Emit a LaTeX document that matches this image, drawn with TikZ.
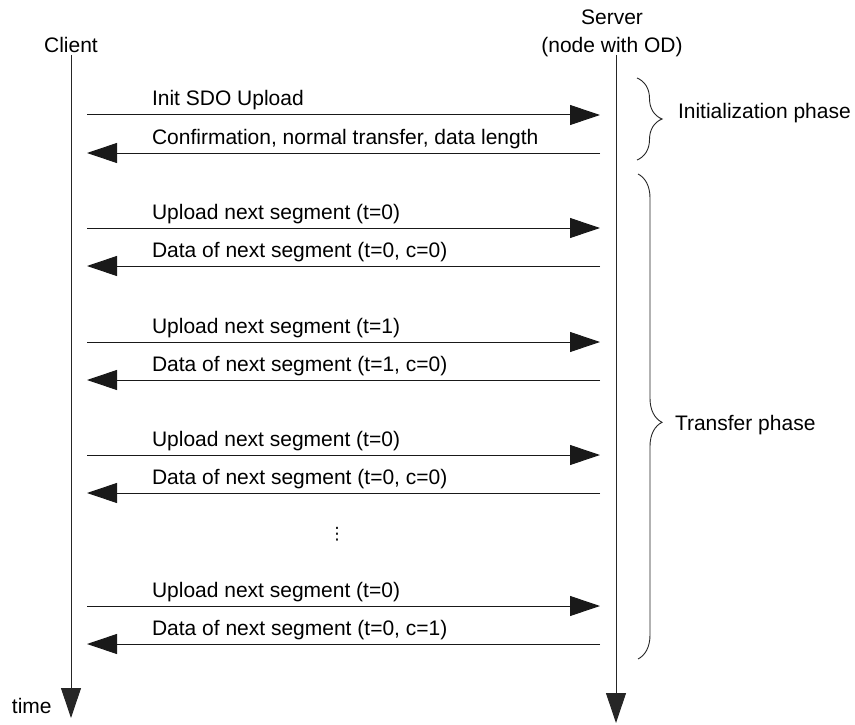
\documentclass[tikz,border=0pt]{standalone}
\usepackage{fontspec}
\setmainfont{Liberation Sans}
\newfontfamily\symfont{DejaVu Sans}
\usetikzlibrary{arrows.meta,decorations.pathreplacing}
\begin{document}
\begin{tikzpicture}[x=1pt,y=-1pt,
  every node/.style={inner sep=0pt,outer sep=0pt,font=\fontsize{21}{25}\selectfont},
  life/.style={draw=black!85,line width=1pt,-{Triangle[length=30pt,width=20pt]}},
  msg/.style={draw=black!90,line width=1pt,-{Triangle[length=30pt,width=20pt]}},
  lbl/.style={anchor=base west},
  phase/.style={draw=black!85,line width=0.9pt,decorate,decoration={brace,amplitude=25pt}}]
\useasboundingbox (0,0) rectangle (855,725);
% participants
\node[anchor=base] (client) at (71,53) {Client};
\node[anchor=base] (server) at (612,25) {Server};
\node[anchor=base] (serverod) at (612,53) {(node with OD)};
\coordinate (cTop) at (71,55);
\coordinate (cBot) at (71,718);
\coordinate (sTop) at (616,55);
\coordinate (sBot) at (616,723);
\draw[life] (cTop) -- (cBot);
\draw[life] (sTop) -- (sBot);
\node[anchor=base west] (time) at (12,713) {time};
% messages
\foreach \i/\y/\dir/\t in {
  1/115/r/{Init SDO Upload},
  2/153/l/{Confirmation, normal transfer, data length},
  3/228/r/{Upload next segment (t=0)},
  4/266/l/{Data of next segment (t=0, c=0)},
  5/342/r/{Upload next segment (t=1)},
  6/380/l/{Data of next segment (t=1, c=0)},
  7/455/r/{Upload next segment (t=0)},
  8/493/l/{Data of next segment (t=0, c=0)},
  9/606/r/{Upload next segment (t=0)},
  10/644/l/{Data of next segment (t=0, c=1)}}{
  \coordinate (m\i L) at (87,\y);
  \coordinate (m\i R) at (600,\y);
  \node[lbl] (t\i) at (152,\y-9) {\t};
  \if r\dir
    \draw[msg] (m\i L) -- (m\i R);
  \else
    \draw[msg] (m\i R) -- (m\i L);
  \fi
}
% ellipsis
\node (dots) at (337,534) {\symfont\fontsize{17}{17}\selectfont ⋮};
% phases
\coordinate (iTop) at (637,78);
\coordinate (iBot) at (637,160);
\draw[phase] (iTop) -- (iBot);
\node[anchor=base west] (init) at (678,118) {Initialization phase};
\coordinate (tTop) at (638,174);
\coordinate (tBot) at (638,659);
\draw[phase,decoration={brace,amplitude=24pt,aspect=0.512}] (tTop) -- (tBot);
\node[anchor=base west] (transfer) at (675,430) {Transfer phase};
\end{tikzpicture}
\end{document}
